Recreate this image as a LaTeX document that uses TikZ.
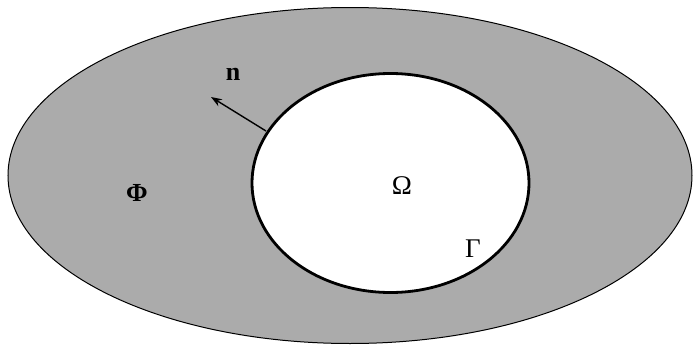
\documentclass[tikz,border=0pt]{standalone}
\usepackage{fontspec}
\setmainfont{Liberation Serif}
\usetikzlibrary{arrows.meta}
\begin{document}
\begin{tikzpicture}[x=1pt,y=-1pt,
  lbl/.style={inner sep=0pt,font=\fontsize{27}{30}\selectfont},
  blbl/.style={inner sep=0pt,font=\fontsize{26}{30}\selectfont\bfseries}]
\useasboundingbox (0,0) rectangle (694,348);
\fill[white] (0,0) rectangle (694,348);
\draw[fill=black!33,line width=1pt] (350,175.5) ellipse [x radius=342,y radius=168];
\draw[fill=white,line width=2.8pt] (390.5,183) ellipse [x radius=138.5,y radius=109.5];
\coordinate (nbase) at (266,131);
\coordinate (ntip) at (211,97);
\draw[line width=1.4pt,-{Stealth[length=11pt,width=8pt]}] (nbase) -- (ntip);
\node[blbl] (n) at (233,74) {n};
\node[blbl] (phi) at (137,193) {Φ};
\node[lbl] (omega) at (402,186) {Ω};
\node[lbl] (gamma) at (473,249) {Γ};
\end{tikzpicture}
\end{document}
